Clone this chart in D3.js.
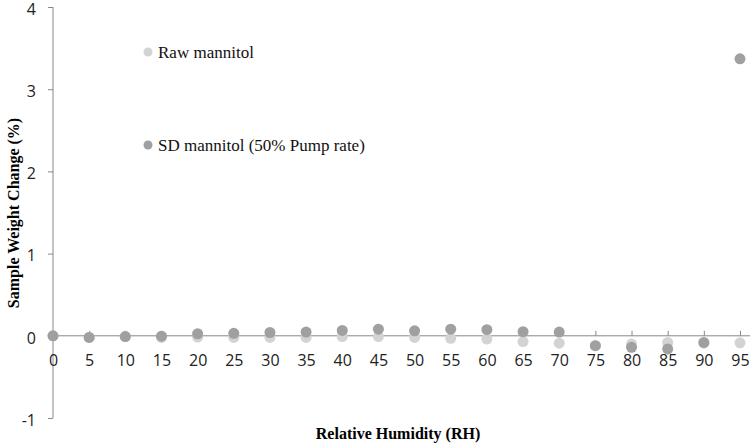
<!DOCTYPE html>
<html><head><meta charset="utf-8">
<script src="https://cdn.jsdelivr.net/npm/d3@7"></script>
<style>body{margin:0;background:#fff}svg{display:block}</style>
</head><body>
<svg id="c" width="750" height="444"></svg>
<script>
const rh = [0,5,10,15,20,25,30,35,40,45,50,55,60,65,70,75,80,85,90,95];
const rawMannitol = [0,-0.02,-0.01,-0.02,-0.015,-0.02,-0.02,-0.02,-0.01,-0.01,-0.02,-0.03,-0.04,-0.07,-0.09,-0.12,-0.1,-0.08,-0.09,-0.085];
const sdMannitol = [0,-0.02,-0.01,-0.005,0.025,0.03,0.04,0.045,0.065,0.08,0.06,0.08,0.075,0.05,0.045,-0.12,-0.14,-0.16,-0.08,3.37];
const yTicks = [-1,0,1,2,3,4];
const seriesNames = ["Raw mannitol","SD mannitol (50% Pump rate)"];
const colors = ["#d3d3d3","#a0a0a0"];

const svg = d3.select("#c");
const x = d3.scalePoint().domain(rh).range([53,740]);
const y = d3.scaleLinear().domain([-1,4]).range([418,7]);

// y axis
const ya = svg.append("g").attr("transform","translate(53,0)")
  .call(d3.axisLeft(y).tickValues(yTicks).tickSize(5).tickPadding(12).tickFormat(d => String(d)));
ya.select(".domain").attr("stroke","#888").attr("d","M0,7V418");
ya.selectAll(".tick line").attr("stroke","#888");
ya.selectAll("text").attr("font-family","'Open Sans',sans-serif").attr("font-size",16).attr("fill","#222").attr("dy","0.45em");

// x axis at y=0
const xa = svg.append("g").attr("transform",`translate(0,${y(0)})`)
  .call(d3.axisBottom(x).tickSize(0).tickPadding(19));
xa.select(".domain").attr("stroke","#888").attr("d","M53,0H750");
xa.selectAll(".tick").append("line").attr("y1",0).attr("y2",-5).attr("stroke","#888");
xa.selectAll("text").attr("font-family","'Open Sans',sans-serif").attr("font-size",16).attr("fill","#222").attr("dy","0.71em");

// points
[rawMannitol, sdMannitol].forEach((vals,i)=>{
  svg.append("g").selectAll("circle").data(vals).join("circle")
    .attr("cx",(d,j)=>x(rh[j])).attr("cy",d=>y(d)).attr("r",5.5).attr("fill",colors[i]);
});

// legend
const lg = svg.append("g");
[52,145].forEach((ly,i)=>{
  lg.append("circle").attr("cx",148).attr("cy",ly).attr("r",4.5).attr("fill",colors[i]);
  lg.append("text").attr("x",158).attr("y",ly+6).text(seriesNames[i])
    .attr("font-family","'Liberation Serif','Times New Roman',serif").attr("font-size",17).attr("fill","#111");
});

// axis titles
svg.append("text").attr("x",398).attr("y",439).attr("text-anchor","middle")
  .attr("font-family","'Liberation Serif','Times New Roman',serif").attr("font-weight","bold").attr("font-size",16)
  .text("Relative Humidity (RH)");
svg.append("text").attr("transform","translate(19,213) rotate(-90)").attr("text-anchor","middle")
  .attr("font-family","'Liberation Serif','Times New Roman',serif").attr("font-weight","bold").attr("font-size",16)
  .text("Sample Weight Change (%)");
</script>
</body></html>
